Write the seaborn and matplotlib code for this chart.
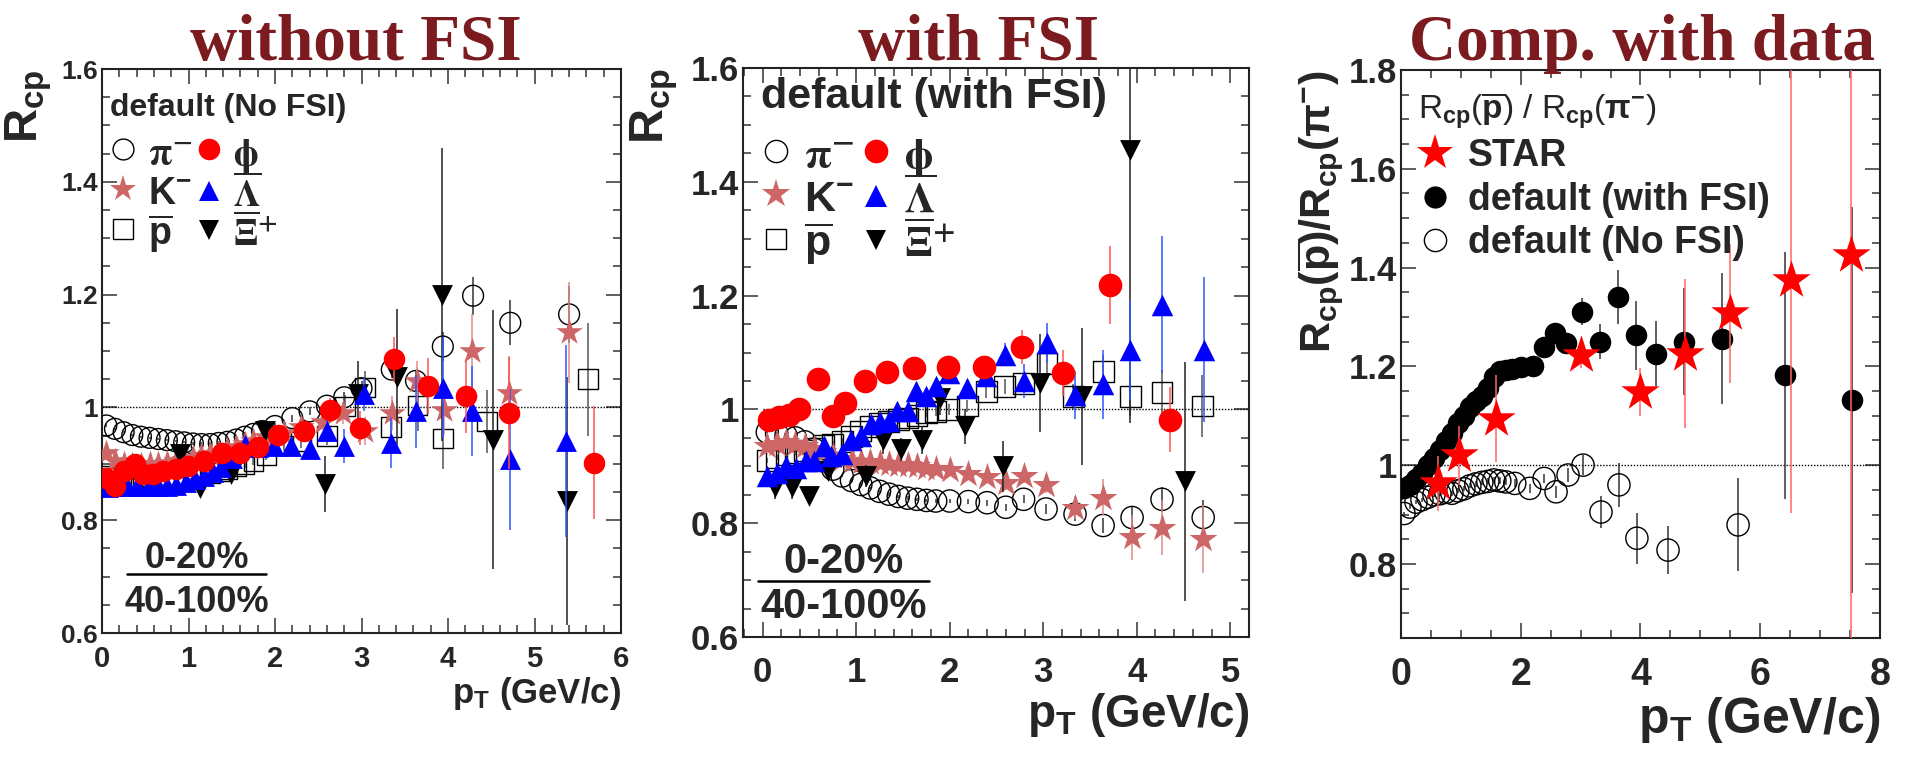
import matplotlib
matplotlib.use("Agg")
import matplotlib.pyplot as plt
from matplotlib import font_manager
from matplotlib.lines import Line2D
from matplotlib.ticker import MultipleLocator, FuncFormatter
import pandas as pd
import seaborn as sns

# ---------------- R_cp (0-20% / 40-100%), default AMPT without FSI ----------------
PT_PI_NOFSI = [0.05, 0.15, 0.25, 0.35, 0.45, 0.55, 0.65, 0.75, 0.85, 0.95, 1.05, 1.15, 1.25, 1.35, 1.45, 1.55,
               1.65, 1.75, 1.85, 2.0, 2.2, 2.4, 2.6, 2.8, 3.0, 3.35, 3.63, 3.94, 4.29, 4.72, 5.4]
RCP_PI_NOFSI = [0.968, 0.962, 0.956, 0.951, 0.948, 0.946, 0.944, 0.942, 0.940, 0.938, 0.936, 0.935, 0.935, 0.937,
                0.939, 0.943, 0.948, 0.953, 0.958, 0.967, 0.981, 0.993, 1.003, 1.018, 1.034, 1.067, 1.047, 1.108,
                1.198, 1.15, 1.165]
ERR_PI_NOFSI = [0.002, 0.002, 0.002, 0.002, 0.002, 0.002, 0.002, 0.002, 0.002, 0.002, 0.003, 0.003, 0.003, 0.003,
                0.003, 0.004, 0.004, 0.004, 0.005, 0.005, 0.006, 0.007, 0.008, 0.01, 0.012, 0.015, 0.018, 0.025,
                0.034, 0.04, 0.05]

PT_K_NOFSI = [0.05, 0.15, 0.25, 0.35, 0.45, 0.55, 0.65, 0.75, 0.85, 0.95, 1.05, 1.15, 1.25, 1.35, 1.45, 1.55,
              1.65, 1.75, 1.9, 2.1, 2.3, 2.55, 2.79, 3.04, 3.35, 3.64, 3.95, 4.28, 4.7, 5.4]
RCP_K_NOFSI = [0.92, 0.905, 0.9, 0.898, 0.898, 0.9, 0.9, 0.902, 0.905, 0.907, 0.91, 0.913, 0.917, 0.92, 0.925,
               0.93, 0.935, 0.94, 0.948, 0.955, 0.965, 0.975, 0.99, 0.958, 0.99, 1.047, 0.996, 1.1, 1.026, 1.133]
ERR_K_NOFSI = [0.004, 0.004, 0.004, 0.004, 0.004, 0.004, 0.004, 0.004, 0.005, 0.005, 0.005, 0.005, 0.006, 0.006,
               0.006, 0.007, 0.007, 0.008, 0.009, 0.01, 0.012, 0.015, 0.02, 0.025, 0.03, 0.035, 0.045, 0.065,
               0.065, 0.09]

PT_P_NOFSI = [0.05, 0.15, 0.25, 0.35, 0.45, 0.55, 0.65, 0.75, 0.85, 0.95, 1.05, 1.15, 1.25, 1.35, 1.45, 1.55,
              1.65, 1.75, 1.9, 2.1, 2.3, 2.6, 2.81, 3.04, 3.34, 3.65, 3.94, 4.45, 5.62]
RCP_P_NOFSI = [0.878, 0.875, 0.875, 0.875, 0.876, 0.877, 0.878, 0.879, 0.88, 0.881, 0.882, 0.883, 0.884, 0.886,
               0.89, 0.895, 0.9, 0.905, 0.915, 0.932, 0.94, 0.949, 1.002, 1.035, 0.965, 1.003, 0.945, 0.975, 1.05]
ERR_P_NOFSI = [0.004, 0.004, 0.004, 0.004, 0.004, 0.004, 0.004, 0.005, 0.005, 0.005, 0.005, 0.006, 0.006, 0.006,
               0.007, 0.007, 0.008, 0.008, 0.009, 0.01, 0.012, 0.015, 0.02, 0.03, 0.035, 0.045, 0.055, 0.055, 0.1]

PT_PHI_NOFSI = [0.05, 0.15, 0.26, 0.38, 0.47, 0.59, 0.71, 0.85, 0.99, 1.18, 1.39, 1.6, 1.8, 2.03, 2.34, 2.64,
                2.98, 3.38, 3.77, 4.21, 4.7, 5.69]
RCP_PHI_NOFSI = [0.874, 0.861, 0.887, 0.899, 0.882, 0.882, 0.887, 0.89, 0.896, 0.905, 0.92, 0.92, 0.93, 0.951,
                 0.958, 0.995, 0.964, 1.085, 1.038, 1.02, 0.99, 0.902]
ERR_PHI_NOFSI = [0.008, 0.008, 0.008, 0.008, 0.008, 0.008, 0.008, 0.008, 0.008, 0.009, 0.01, 0.011, 0.012, 0.014,
                 0.018, 0.022, 0.03, 0.04, 0.05, 0.065, 0.1, 0.1]

PT_LAM_NOFSI = [0.07, 0.18, 0.29, 0.41, 0.54, 0.65, 0.75, 0.86, 0.97, 1.08, 1.18, 1.28, 1.38, 1.5, 1.65, 1.8,
                1.99, 2.19, 2.4, 2.6, 2.8, 3.03, 3.34, 3.63, 3.94, 4.28, 4.72, 5.36]
RCP_LAM_NOFSI = [0.858, 0.86, 0.861, 0.861, 0.861, 0.861, 0.861, 0.863, 0.868, 0.873, 0.878, 0.886, 0.895, 0.91,
                 0.934, 0.93, 0.932, 0.932, 0.926, 0.958, 0.932, 1.023, 0.937, 0.993, 1.035, 0.993, 0.908, 0.94]
ERR_LAM_NOFSI = [0.005, 0.005, 0.005, 0.005, 0.005, 0.005, 0.005, 0.005, 0.006, 0.006, 0.006, 0.007, 0.007,
                 0.008, 0.009, 0.01, 0.012, 0.013, 0.015, 0.02, 0.03, 0.03, 0.044, 0.065, 0.09, 0.08, 0.125, 0.17]

PT_XI_NOFSI = [0.9, 1.13, 1.49, 1.89, 2.58, 2.96, 3.41, 3.93, 4.52, 5.37]
RCP_XI_NOFSI = [0.917, 0.857, 0.882, 0.958, 0.864, 1.023, 1.054, 1.2, 0.943, 0.834]
ERR_XI_NOFSI = [0.01, 0.012, 0.015, 0.02, 0.05, 0.06, 0.12, 0.26, 0.23, 0.22]

# ---------------- R_cp, default AMPT with FSI ----------------
PT_PI_FSI = [0.05, 0.15, 0.25, 0.35, 0.45, 0.55, 0.65, 0.75, 0.85, 0.95, 1.05, 1.15, 1.25, 1.35, 1.45, 1.55,
             1.65, 1.75, 1.85, 2.0, 2.2, 2.4, 2.6, 2.79, 3.03, 3.34, 3.64, 3.95, 4.27, 4.71]
RCP_PI_FSI = [0.96, 0.958, 0.954, 0.95, 0.943, 0.93, 0.91, 0.895, 0.883, 0.875, 0.868, 0.862, 0.856, 0.851,
              0.847, 0.844, 0.842, 0.84, 0.839, 0.839, 0.838, 0.836, 0.828, 0.842, 0.825, 0.816, 0.796, 0.81,
              0.842, 0.81]
ERR_PI_FSI = [0.002, 0.002, 0.002, 0.002, 0.002, 0.002, 0.002, 0.002, 0.002, 0.002, 0.002, 0.002, 0.003, 0.003,
              0.003, 0.003, 0.003, 0.003, 0.004, 0.004, 0.004, 0.005, 0.006, 0.007, 0.008, 0.012, 0.014, 0.02,
              0.022, 0.03]

PT_K_FSI = [0.05, 0.15, 0.25, 0.35, 0.45, 0.55, 0.65, 0.75, 0.85, 0.95, 1.05, 1.15, 1.25, 1.35, 1.45, 1.55,
            1.65, 1.75, 1.85, 2.0, 2.2, 2.4, 2.6, 2.79, 3.03, 3.34, 3.64, 3.95, 4.27, 4.71]
RCP_K_FSI = [0.935, 0.94, 0.942, 0.94, 0.935, 0.93, 0.925, 0.918, 0.912, 0.91, 0.908, 0.907, 0.906, 0.904,
             0.903, 0.902, 0.9, 0.897, 0.895, 0.893, 0.887, 0.882, 0.87, 0.883, 0.868, 0.827, 0.845, 0.775,
             0.792, 0.772]
ERR_K_FSI = [0.003, 0.003, 0.003, 0.003, 0.003, 0.003, 0.003, 0.003, 0.004, 0.004, 0.004, 0.004, 0.004, 0.005,
             0.005, 0.005, 0.006, 0.006, 0.006, 0.007, 0.008, 0.009, 0.01, 0.012, 0.015, 0.02, 0.032, 0.04,
             0.048, 0.06]

PT_P_FSI = [0.05, 0.15, 0.25, 0.35, 0.45, 0.55, 0.65, 0.75, 0.85, 0.95, 1.05, 1.15, 1.25, 1.35, 1.45, 1.55,
            1.65, 1.75, 1.85, 1.99, 2.19, 2.39, 2.59, 2.79, 3.04, 3.32, 3.64, 3.93, 4.27, 4.7]
RCP_P_FSI = [0.91, 0.915, 0.92, 0.924, 0.928, 0.932, 0.936, 0.939, 0.944, 0.952, 0.962, 0.97, 0.975, 0.979,
             0.982, 0.985, 0.99, 0.994, 0.997, 1.0, 1.006, 1.032, 1.04, 1.046, 1.081, 1.022, 1.066, 1.023,
             1.029, 1.006]
ERR_P_FSI = [0.004, 0.004, 0.004, 0.004, 0.004, 0.004, 0.004, 0.005, 0.005, 0.005, 0.005, 0.006, 0.006, 0.006,
             0.007, 0.007, 0.008, 0.008, 0.009, 0.01, 0.011, 0.012, 0.013, 0.015, 0.018, 0.022, 0.03, 0.035,
             0.04, 0.055]

PT_PHI_FSI = [0.07, 0.18, 0.28, 0.39, 0.59, 0.75, 0.88, 1.09, 1.33, 1.62, 1.98, 2.37, 2.77, 3.21, 3.71, 4.36]
RCP_PHI_FSI = [0.982, 0.987, 0.991, 1.0, 1.053, 0.988, 1.012, 1.05, 1.065, 1.072, 1.075, 1.074, 1.11, 1.064,
               1.219, 0.982]
ERR_PHI_FSI = [0.008, 0.008, 0.008, 0.008, 0.009, 0.009, 0.01, 0.01, 0.011, 0.012, 0.013, 0.016, 0.03, 0.04,
               0.069, 0.057]

PT_LAM_FSI = [0.05, 0.15, 0.25, 0.36, 0.46, 0.55, 0.66, 0.73, 0.85, 0.94, 1.05, 1.16, 1.26, 1.35, 1.44, 1.55,
              1.64, 1.75, 1.85, 1.99, 2.19, 2.39, 2.59, 2.79, 3.04, 3.34, 3.64, 3.93, 4.27, 4.72]
RCP_LAM_FSI = [0.883, 0.889, 0.9, 0.897, 0.909, 0.909, 0.935, 0.918, 0.921, 0.947, 0.953, 0.974, 0.977, 0.98,
               0.997, 0.997, 1.032, 1.023, 1.041, 1.064, 1.038, 1.058, 1.096, 1.05, 1.117, 1.026, 1.044, 1.105,
               1.184, 1.105]
ERR_LAM_FSI = [0.006, 0.006, 0.006, 0.006, 0.006, 0.006, 0.006, 0.006, 0.007, 0.007, 0.007, 0.008, 0.008, 0.008,
               0.009, 0.009, 0.01, 0.01, 0.011, 0.012, 0.014, 0.016, 0.02, 0.03, 0.035, 0.042, 0.06, 0.088, 0.12,
               0.128]

PT_XI_FSI = [0.13, 0.31, 0.5, 0.7, 1.1, 1.29, 1.48, 1.7, 1.9, 2.16, 2.57, 2.97, 3.41, 3.93, 4.52]
RCP_XI_FSI = [0.863, 0.863, 0.848, 0.892, 0.883, 0.946, 0.93, 0.946, 1.02, 0.97, 0.9, 1.047, 1.023, 1.456, 0.874]
ERR_XI_FSI = [0.02, 0.02, 0.015, 0.015, 0.02, 0.025, 0.02, 0.025, 0.03, 0.03, 0.045, 0.086, 0.12, 0.48, 0.21]

# ---------------- R_cp(pbar)/R_cp(pi-) ----------------
PT_RATIO_FSI = [0.05, 0.15, 0.25, 0.35, 0.45, 0.55, 0.65, 0.75, 0.85, 0.95, 1.05, 1.15, 1.25, 1.35, 1.45, 1.55,
                1.65, 1.75, 1.85, 2.0, 2.2, 2.39, 2.57, 2.75, 3.02, 3.32, 3.62, 3.92, 4.26, 4.72, 5.36, 6.41,
                7.53]
RATIO_FSI = [0.953, 0.96, 0.972, 0.985, 1.0, 1.015, 1.03, 1.048, 1.065, 1.085, 1.1, 1.117, 1.13, 1.14, 1.156,
             1.178, 1.19, 1.193, 1.195, 1.198, 1.2, 1.24, 1.267, 1.247, 1.311, 1.25, 1.341, 1.263, 1.226, 1.25,
             1.256, 1.182, 1.132]
ERR_RATIO_FSI = [0.004, 0.004, 0.004, 0.004, 0.004, 0.005, 0.005, 0.005, 0.005, 0.006, 0.006, 0.006, 0.007,
                 0.007, 0.007, 0.008, 0.008, 0.009, 0.009, 0.01, 0.01, 0.012, 0.014, 0.016, 0.027, 0.035, 0.055,
                 0.07, 0.065, 0.108, 0.133, 0.25, 0.39]

PT_RATIO_NOFSI = [0.05, 0.15, 0.25, 0.35, 0.45, 0.55, 0.65, 0.75, 0.85, 0.95, 1.05, 1.15, 1.25, 1.35, 1.45,
                  1.55, 1.65, 1.75, 1.9, 2.15, 2.39, 2.59, 2.79, 3.04, 3.34, 3.64, 3.94, 4.46, 5.63]
RATIO_NOFSI = [0.902, 0.915, 0.925, 0.93, 0.935, 0.94, 0.942, 0.945, 0.943, 0.948, 0.952, 0.958, 0.962, 0.965,
               0.967, 0.97, 0.968, 0.966, 0.963, 0.953, 0.973, 0.946, 0.98, 1.0, 0.905, 0.96, 0.852, 0.828, 0.879]
ERR_RATIO_NOFSI = [0.004, 0.004, 0.004, 0.004, 0.004, 0.004, 0.004, 0.005, 0.005, 0.005, 0.005, 0.005, 0.006,
                   0.006, 0.006, 0.006, 0.007, 0.007, 0.008, 0.009, 0.01, 0.012, 0.015, 0.02, 0.032, 0.044, 0.052,
                   0.049, 0.094]

PT_STAR = [0.61, 0.97, 1.59, 3.0, 3.99, 4.74, 5.5, 6.51, 7.51]
RATIO_STAR = [0.963, 1.02, 1.094, 1.222, 1.148, 1.226, 1.307, 1.374, 1.425]
ERR_STAR = [0.055, 0.06, 0.088, 0.025, 0.048, 0.15, 0.14, 0.47, 0.8]

PANEL_TITLES = ["without FSI", "with FSI", "Comp. with data"]
SPECIES_LABELS = [r"$\mathrm{\pi}^{-}$", r"K$^{\mathbf{-}}$", r"$\overline{\mathbf{p}}$",
                  r"$\mathrm{\phi}$", r"$\overline{\Lambda}$", r"$\overline{\Xi}^{+}$"]
RATIO_LABELS = ["STAR", "default (with FSI)", "default (No FSI)"]

# ---------------- style ----------------
sns.set_theme(style="ticks")
plt.rcParams["font.family"] = ["Liberation Sans", "DejaVu Sans"]
plt.rcParams.update({
    "font.weight": "bold",
    "mathtext.fontset": "custom",
    "mathtext.rm": "Liberation Sans",
    "mathtext.it": "Liberation Sans:italic",
    "mathtext.bf": "Liberation Sans:bold",
    "mathtext.sf": "Liberation Sans",
    "axes.linewidth": 1.5,
    "axes.edgecolor": "#222222",
})

# a narrow sans face for the tightly packed left panel, if one is installed
HAVE_NARROW = any(f.name == "Liberation Sans Narrow" for f in font_manager.fontManager.ttflist)
NARROW_FAMILY = ["Liberation Sans Narrow", "Liberation Sans"] if HAVE_NARROW else ["Liberation Sans"]
P1_TICK_SIZE = 23 if HAVE_NARROW else 19

TITLE_RED = "#7b1a1f"
KCOL = "#cd6666"

STY = {
    "pi":  dict(marker="o", color="black", open=True, ecolor="#333333"),
    "k":   dict(marker="*", color=KCOL, open=False, ecolor="#e08a8a"),
    "p":   dict(marker="s", color="black", open=True, ecolor="#555555"),
    "phi": dict(marker="o", color="red", open=False, ecolor="#ff5555"),
    "lam": dict(marker="^", color="blue", open=False, ecolor="#3355ff"),
    "xi":  dict(marker="v", color="black", open=False, ecolor="#222222"),
    "ratio_fsi": dict(marker="o", color="black", open=False, ecolor="#333333"),
    "star": dict(marker="*", color="red", open=False, ecolor="#ff6666"),
}

# marker sizes (points) per panel
MS1 = {"pi": 15, "k": 20, "p": 14, "phi": 15.5, "lam": 15, "xi": 15}
MS2 = {"pi": 16, "k": 21, "p": 15, "phi": 17, "lam": 15.5, "xi": 15}
MS3 = {"pi": 16, "ratio_fsi": 15.5, "star": 29}


def draw_series(ax, pt, val, err, key, ms, z):
    st = STY[key]
    ax.errorbar(pt, val, yerr=err, fmt="none", ecolor=st["ecolor"], elinewidth=1.1, capsize=0, zorder=z)
    df = pd.DataFrame({"pt": pt, "val": val})
    sns.scatterplot(data=df, x="pt", y="val", ax=ax, marker=st["marker"], s=ms ** 2,
                    color=st["color"], edgecolor=st["color"], linewidth=1.0 if st["open"] else 0.0,
                    legend=False, zorder=z + 0.5)
    if st["open"]:
        coll = ax.collections[-1]
        coll.set_facecolor("none")
        coll.set_edgecolor(st["color"])


def handle(key, ms):
    st = STY[key]
    return Line2D([], [], ls="none", marker=st["marker"], ms=ms,
                  mfc="none" if st["open"] else st["color"], mec=st["color"], mew=1.0 if st["open"] else 0.0)


def style_axes(ax, xmaj, xmin_, xlab_size, ylab_size, xpad, ypad):
    ax.xaxis.set_major_locator(MultipleLocator(xmaj))
    ax.xaxis.set_minor_locator(MultipleLocator(xmin_))
    ax.yaxis.set_major_locator(MultipleLocator(0.2))
    ax.yaxis.set_minor_locator(MultipleLocator(0.05))
    ax.yaxis.set_major_formatter(FuncFormatter(lambda v, p: f"{v:g}"))
    ax.xaxis.set_major_formatter(FuncFormatter(lambda v, p: f"{v:g}"))
    ax.tick_params(which="both", direction="in", top=True, right=True, width=1.1, color="#333333")
    ax.tick_params(which="major", length=11)
    ax.tick_params(which="minor", length=5.5)
    ax.tick_params(axis="x", labelsize=xlab_size, pad=xpad)
    ax.tick_params(axis="y", labelsize=ylab_size, pad=ypad)
    for s in ax.spines.values():
        s.set_linewidth(1.5)
        s.set_color("#222222")


def fraction_label(ax, xc, y_num, y_line, y_den, x0, x1, size):
    ax.text(xc, y_num, "0-20%", transform=ax.transAxes, ha="center", va="baseline", fontsize=size,
            fontweight="bold")
    ax.plot([x0, x1], [y_line, y_line], transform=ax.transAxes, color="black", lw=1.8, clip_on=False)
    ax.text(xc, y_den, "40-100%", transform=ax.transAxes, ha="center", va="baseline", fontsize=size,
            fontweight="bold")


def species_legend(ax, ms, anchor, label_size, hlen, hheight, hpad, cspace):
    keys = ["pi", "k", "p", "phi", "lam", "xi"]
    leg = ax.legend([handle(k, ms[k]) for k in keys], SPECIES_LABELS, ncol=2, loc="upper left",
                    bbox_to_anchor=anchor, frameon=False,
                    prop={"weight": "bold", "size": label_size}, handlelength=hlen, handleheight=hheight,
                    handletextpad=hpad, columnspacing=cspace, labelspacing=0.0,
                    borderpad=0.0, borderaxespad=0.0)
    for i in (0, 3, 4, 5):
        leg.get_texts()[i].set_math_fontfamily("stix")
    return leg


fig = plt.figure(figsize=(19.07, 7.57), dpi=100)
fig.patch.set_facecolor("white")

ax1 = fig.add_axes([0.05349, 0.16380, 0.27216, 0.74505])
ax2 = fig.add_axes([0.38962, 0.15852, 0.26534, 0.75165])
ax3 = fig.add_axes([0.73466, 0.15720, 0.25118, 0.75033])

# ---------------- panel 1: without FSI ----------------
ax1.hlines(1.0, 0, 6, colors="black", lw=1.0, linestyles=(0, (1, 1.2)), zorder=1)
draw_series(ax1, PT_PI_NOFSI, RCP_PI_NOFSI, ERR_PI_NOFSI, "pi", MS1["pi"], 2)
draw_series(ax1, PT_P_NOFSI, RCP_P_NOFSI, ERR_P_NOFSI, "p", MS1["p"], 3)
draw_series(ax1, PT_K_NOFSI, RCP_K_NOFSI, ERR_K_NOFSI, "k", MS1["k"], 4)
draw_series(ax1, PT_XI_NOFSI, RCP_XI_NOFSI, ERR_XI_NOFSI, "xi", MS1["xi"], 5)
draw_series(ax1, PT_LAM_NOFSI, RCP_LAM_NOFSI, ERR_LAM_NOFSI, "lam", MS1["lam"], 6)
draw_series(ax1, PT_PHI_NOFSI, RCP_PHI_NOFSI, ERR_PHI_NOFSI, "phi", MS1["phi"], 7)
ax1.set_xlim(0, 6)
ax1.set_ylim(0.6, 1.6)
style_axes(ax1, 1, 0.2, P1_TICK_SIZE + 2, P1_TICK_SIZE, 8.5, 3)
for lbl in ax1.get_xticklabels() + ax1.get_yticklabels():
    lbl.set_fontfamily(NARROW_FAMILY)
ax1.set_xlabel(r"p$_{\mathbf{T}}$ (GeV/c)", fontsize=25, fontweight="bold", loc="right")
ax1.xaxis.set_label_coords(1.0, -0.075)
ax1.set_ylabel(r"R$_{\mathbf{cp}}$", fontsize=34, fontweight="bold", loc="top")
ax1.yaxis.set_label_coords(-0.092, 1.0)
ax1.text(0.015, 0.958, "default (No FSI)", transform=ax1.transAxes, ha="left", va="top",
         fontsize=23, fontweight="bold")
species_legend(ax1, MS1, (0.012, 0.885), 27, 0.8, 1.14, 0.25, 0.05)
fraction_label(ax1, 0.183, 0.115, 0.1046, 0.037, 0.048, 0.316, 26)

# ---------------- panel 2: with FSI ----------------
ax2.hlines(1.0, 0, 5.2, colors="black", lw=1.0, linestyles=(0, (1, 1.2)), zorder=1)
draw_series(ax2, PT_PI_FSI, RCP_PI_FSI, ERR_PI_FSI, "pi", MS2["pi"], 2)
draw_series(ax2, PT_P_FSI, RCP_P_FSI, ERR_P_FSI, "p", MS2["p"], 3)
draw_series(ax2, PT_K_FSI, RCP_K_FSI, ERR_K_FSI, "k", MS2["k"], 4)
draw_series(ax2, PT_XI_FSI, RCP_XI_FSI, ERR_XI_FSI, "xi", MS2["xi"], 5)
draw_series(ax2, PT_LAM_FSI, RCP_LAM_FSI, ERR_LAM_FSI, "lam", MS2["lam"], 6)
draw_series(ax2, PT_PHI_FSI, RCP_PHI_FSI, ERR_PHI_FSI, "phi", MS2["phi"], 7)
ax2.set_xlim(-0.21, 5.2)
ax2.set_ylim(0.6, 1.6)
style_axes(ax2, 1, 0.2, 25, 25, 14, 3)
ax2.set_xlabel(r"p$_{\mathbf{T}}$ (GeV/c)", fontsize=33, fontweight="bold", loc="right")
ax2.xaxis.set_label_coords(1.0, -0.095)
ax2.set_ylabel(r"R$_{\mathbf{cp}}$", fontsize=35, fontweight="bold", loc="top")
ax2.yaxis.set_label_coords(-0.125, 1.0)
ax2.text(0.035, 0.985, "default (with FSI)", transform=ax2.transAxes, ha="left", va="top",
         fontsize=31, fontweight="bold")
species_legend(ax2, MS2, (0.035, 0.885), 31, 0.7, 1.02, 0.3, 0.15)
fraction_label(ax2, 0.199, 0.1125, 0.0984, 0.0334, 0.0296, 0.3676, 30)

# ---------------- panel 3: comparison with data ----------------
ax3.hlines(1.0, 0, 8, colors="black", lw=1.0, linestyles=(0, (1, 1.2)), zorder=1)
draw_series(ax3, PT_RATIO_NOFSI, RATIO_NOFSI, ERR_RATIO_NOFSI, "pi", MS3["pi"], 2)
draw_series(ax3, PT_RATIO_FSI, RATIO_FSI, ERR_RATIO_FSI, "ratio_fsi", MS3["ratio_fsi"], 3)
draw_series(ax3, PT_STAR, RATIO_STAR, ERR_STAR, "star", MS3["star"], 5)
ax3.set_xlim(0, 8)
ax3.set_ylim(0.65, 1.8)
style_axes(ax3, 2, 0.5, 27, 25, 14, 3)
ax3.set_xlabel(r"p$_{\mathbf{T}}$ (GeV/c)", fontsize=36, fontweight="bold", loc="right")
ax3.xaxis.set_label_coords(1.0, -0.10)
ax3.set_ylabel(r"R$_{\mathbf{cp}}$($\overline{\mathbf{p}}$)/R$_{\mathbf{cp}}$($\mathbf{\pi}^{\mathbf{-}}$)",
               fontsize=31, fontweight="bold", loc="top")
ax3.yaxis.set_label_coords(-0.115, 1.0)
ax3.legend([handle("star", 27), handle("ratio_fsi", 16), handle("pi", 16)], RATIO_LABELS,
           loc="upper left", bbox_to_anchor=(0.035, 0.965), frameon=False,
           title=r"R$_{\rm cp}$($\overline{\rm p}$) / R$_{\rm cp}$($\mathrm{\pi}^{-}$)",
           title_fontproperties={"weight": "normal", "size": 24},
           alignment="left", prop={"weight": "bold", "size": 27}, handlelength=0.9,
           handletextpad=0.45, labelspacing=0.2, borderpad=0.0, borderaxespad=0.0)

# ---------------- panel headings ----------------
for xc, txt in zip([0.1867, 0.5134, 0.861], PANEL_TITLES):
    fig.text(xc, 0.921, txt, ha="center", va="baseline", color=TITLE_RED, fontsize=47,
             fontweight="bold", family=["Liberation Serif", "DejaVu Serif"])

fig.savefig("out.png", dpi=100, facecolor="white")
